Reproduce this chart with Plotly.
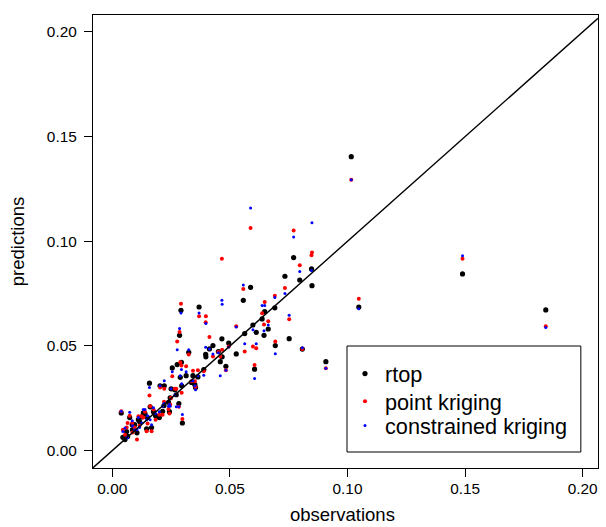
import plotly.graph_objects as go

# observations and the three sets of predictions
obs = [0.1016, 0.1048, 0.1489, 0.1843, 0.0588, 0.0557, 0.0771, 0.0847, 0.0849, 0.0797,
       0.0734, 0.0691, 0.0648, 0.0752, 0.0808, 0.0908, 0.0466, 0.0467, 0.0369, 0.0292,
       0.0286, 0.0398, 0.0397, 0.0413, 0.0325, 0.0276, 0.0294, 0.0255, 0.0314, 0.0289,
       0.0343, 0.0364, 0.0428, 0.0495, 0.0527, 0.0563, 0.0598, 0.0612, 0.0637, 0.0645,
       0.0663, 0.0605, 0.0483, 0.0459, 0.0389, 0.0451, 0.0693, 0.0158, 0.0203, 0.0221,
       0.0250, 0.0266, 0.0295, 0.0337, 0.0246, 0.0272, 0.0038, 0.0074, 0.0125, 0.0065,
       0.0105, 0.0146, 0.0298, 0.0054, 0.0175, 0.0214, 0.0220, 0.0132, 0.0161, 0.0239,
       0.0351, 0.0283, 0.0111, 0.0085, 0.0167, 0.0200, 0.0045, 0.0139, 0.0095, 0.0116,
       0.0061, 0.0184, 0.0150, 0.0086, 0.0243, 0.0354]

rtop = [0.1404, 0.0686, 0.0844, 0.0672, 0.0780, 0.0718, 0.0922, 0.0868, 0.0788, 0.0815,
        0.0833, 0.0682, 0.0664, 0.0535, 0.0485, 0.0425, 0.0534, 0.0448, 0.0686, 0.0670,
        0.0551, 0.0448, 0.0460, 0.0486, 0.0470, 0.0411, 0.0422, 0.0395, 0.0358, 0.0350,
        0.0358, 0.0352, 0.0502, 0.0514, 0.0462, 0.0559, 0.0600, 0.0565, 0.0629, 0.0551,
        0.0581, 0.0389, 0.0403, 0.0425, 0.0387, 0.0473, 0.0502, 0.0322, 0.0310, 0.0310,
        0.0295, 0.0291, 0.0310, 0.0326, 0.0252, 0.0267, 0.0180, 0.0158, 0.0161, 0.0068,
        0.0085, 0.0104, 0.0132, 0.0053, 0.0186, 0.0188, 0.0215, 0.0180, 0.0209, 0.0231,
        0.0315, 0.0225, 0.0148, 0.0124, 0.0110, 0.0158, 0.0064, 0.0177, 0.0124, 0.0139,
        0.0091, 0.0167, 0.0158, 0.0100, 0.0186, 0.0301]

point_kriging = [0.1294, 0.0725, 0.0916, 0.0594, 0.1064, 0.0772, 0.1051, 0.0933, 0.0947, 0.0886,
                 0.0777, 0.0740, 0.0710, 0.0628, 0.0486, 0.0393, 0.0916, 0.0482, 0.0642, 0.0702,
                 0.0567, 0.0642, 0.0613, 0.0543, 0.0459, 0.0521, 0.0407, 0.0355, 0.0403, 0.0422,
                 0.0381, 0.0384, 0.0450, 0.0498, 0.0594, 0.0474, 0.0498, 0.0489, 0.0656, 0.0602,
                 0.0618, 0.0409, 0.0384, 0.0450, 0.0379, 0.0471, 0.0521, 0.0263, 0.0301, 0.0296,
                 0.0252, 0.0296, 0.0276, 0.0331, 0.0220, 0.0296, 0.0188, 0.0167, 0.0164, 0.0132,
                 0.0053, 0.0092, 0.0151, 0.0076, 0.0196, 0.0171, 0.0234, 0.0158, 0.0212, 0.0199,
                 0.0331, 0.0209, 0.0164, 0.0132, 0.0092, 0.0171, 0.0100, 0.0186, 0.0110, 0.0119,
                 0.0110, 0.0148, 0.0129, 0.0086, 0.0177, 0.0304]

constrained_kriging = [0.1294, 0.0678, 0.0931, 0.0588, 0.1159, 0.0791, 0.1021, 0.0861, 0.1088, 0.0856,
                       0.0750, 0.0731, 0.0693, 0.0647, 0.0492, 0.0393, 0.0718, 0.0699, 0.0658, 0.0658,
                       0.0583, 0.0607, 0.0494, 0.0486, 0.0482, 0.0482, 0.0387, 0.0377, 0.0377, 0.0358,
                       0.0334, 0.0358, 0.0462, 0.0495, 0.0591, 0.0511, 0.0578, 0.0511, 0.0693, 0.0573,
                       0.0600, 0.0345, 0.0384, 0.0358, 0.0360, 0.0467, 0.0463, 0.0301, 0.0310, 0.0334,
                       0.0295, 0.0267, 0.0320, 0.0334, 0.0212, 0.0209, 0.0188, 0.0183, 0.0132, 0.0061,
                       0.0100, 0.0148, 0.0172, 0.0108, 0.0205, 0.0212, 0.0225, 0.0196, 0.0148, 0.0212,
                       0.0310, 0.0209, 0.0158, 0.0143, 0.0124, 0.0186, 0.0091, 0.0196, 0.0100, 0.0110,
                       0.0061, 0.0177, 0.0167, 0.0119, 0.0220, 0.0291]

series_names = ["rtop", "point kriging", "constrained kriging"]
series_colors = ["#000000", "#ff0000", "#0000ff"]
marker_sizes = [5.2, 4.0, 3.0]

tick_vals = [0.00, 0.05, 0.10, 0.15, 0.20]
x_range = [-0.0082, 0.2065]
y_range = [-0.0083, 0.2081]
x_title = "observations"
y_title = "predictions"

FONT = "Liberation Sans, Arial, Helvetica, sans-serif"
legend_ids = ["legend", "legend2", "legend3"]
legend_rows_y = [0.2075, 0.1464, 0.0927]   # paper y of each legend row

fig = go.Figure()
for name, ys, col, sz, lg in zip(series_names, [rtop, point_kriging, constrained_kriging],
                                 series_colors, marker_sizes, legend_ids):
    fig.add_trace(go.Scatter(
        x=obs, y=ys, mode="markers", name=name, legend=lg,
        marker=dict(color=col, size=sz, line=dict(width=0)),
        cliponaxis=True,
    ))

# 1:1 line
fig.add_shape(type="line", xref="x", yref="y",
              x0=x_range[0], y0=x_range[0], x1=x_range[1], y1=x_range[1],
              line=dict(color="black", width=1.4), layer="above")

# legend frame
fig.add_shape(type="rect", xref="paper", yref="paper",
              x0=0.503, x1=0.966, y0=0.0353, y1=0.2693,
              line=dict(color="black", width=1), fillcolor="white", layer="above")

# x-axis title (placed as text below the tick labels, kept inside the page)
fig.add_annotation(text=x_title, xref="paper", yref="paper", x=0.495, y=-0.1291,
                   xanchor="center", yanchor="bottom", showarrow=False, borderpad=0,
                   font=dict(family=FONT, size=18.5, color="black"))

axis_common = dict(
    tickvals=tick_vals, tickformat=".2f", ticks="outside", ticklen=8, tickwidth=1,
    tickcolor="black", showline=True, linecolor="black", linewidth=1.2, mirror=True,
    showgrid=False, zeroline=False, automargin=False,
    tickfont=dict(family=FONT, size=15.4, color="black"),
)

legend_common = dict(x=0.499, xanchor="left", yanchor="middle",
                     bgcolor="rgba(0,0,0,0)", borderwidth=0,
                     font=dict(family=FONT, size=21.7, color="black"),
                     itemclick=False, itemdoubleclick=False)

fig.update_layout(
    width=606, height=527,
    margin=dict(l=93, r=8, t=15, b=59),
    paper_bgcolor="white", plot_bgcolor="white",
    font=dict(family=FONT, color="black"),
    xaxis=dict(range=x_range, ticklabelstandoff=-2, **axis_common),
    yaxis=dict(range=y_range, title=dict(text=y_title, standoff=17,
                                         font=dict(family=FONT, size=18.5)),
               ticklabelstandoff=4, **axis_common),
    showlegend=True,
    legend=dict(y=legend_rows_y[0], **legend_common),
    legend2=dict(y=legend_rows_y[1], **legend_common),
    legend3=dict(y=legend_rows_y[2], **legend_common),
)

fig.write_html("out.html")
